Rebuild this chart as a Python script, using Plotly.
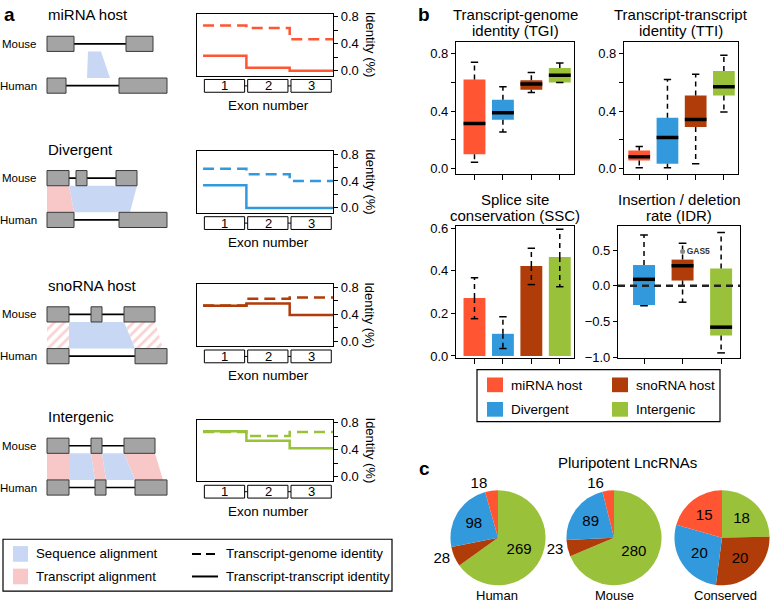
import plotly.graph_objects as go

W, H = 771, 607
FONT = "Liberation Sans, Arial, Helvetica, sans-serif"

# ── categories / colours ──
groups = ["miRNA host", "Divergent", "snoRNA host", "Intergenic"]
colors = ["#ff5533", "#3399dd", "#b03c0a", "#99c23a"]
seq_color = "#c8d8f4"
tx_color = "#f8c8c8"

# ── panel a: identity per exon (exons 1-3) ──
exon_labels = ["1", "2", "3"]
tgi_exon = [[0.67, 0.635, 0.465], [0.58, 0.50, 0.40], [0.53, 0.63, 0.65], [0.66, 0.60, 0.66]]
tti_exon = [[0.22, 0.045, 0.0], [0.335, 0.0, 0.0], [0.527, 0.56, 0.39], [0.67, 0.53, 0.42]]

# ── panel a: gene models (x in schematic units from first exon start) ──
mouse_exons = [
    [(0, 27), (79, 106)],
    [(0, 22), (29, 40), (69, 90)],
    [(0, 22), (44, 55), (77, 108)],
    [(0, 22), (44, 55), (77, 108)],
]
human_exons = [
    [(0, 19), (72, 120)],
    [(0, 27), (72, 120)],
    [(0, 22), (88, 120)],
    [(0, 22), (48, 59), (88, 120)],
]
# aligned blocks: (mouse start, mouse end, human start, human end)
seq_blocks = [
    [(41, 54, 40, 63)],
    [(22, 90, 27, 83)],
    [(22, 77, 22, 88)],
    [(22, 44, 22, 48), (55, 77, 59, 88)],
]
tx_blocks = [
    [],
    [(0, 22, 0, 27)],
    [(0, 22, 0, 22), (77, 108, 88, 116)],
    [(0, 22, 0, 22), (44, 55, 48, 59), (77, 108, 88, 116)],
]
tx_hatched = [False, False, True, False]

# ── panel b: (lower whisker, q1, median, q3, upper whisker) ──
tgi_stats = [(0.045, 0.10, 0.315, 0.62, 0.74), (0.256, 0.34, 0.39, 0.48, 0.57),
             (0.53, 0.55, 0.59, 0.616, 0.67), (0.60, 0.60, 0.65, 0.70, 0.735)]
tti_stats = [(0.007, 0.057, 0.084, 0.126, 0.155), (0.007, 0.034, 0.217, 0.354, 0.62),
             (0.034, 0.29, 0.342, 0.51, 0.657), (0.395, 0.51, 0.57, 0.68, 0.79)]
ssc_mean = [0.272, 0.104, 0.422, 0.464]
ssc_lo = [0.175, 0.035, 0.335, 0.325]
ssc_hi = [0.367, 0.184, 0.505, 0.595]
idr_groups = ["Divergent", "snoRNA host", "Intergenic"]
idr_stats = [(-0.28, -0.27, 0.09, 0.29, 0.71), (-0.23, 0.073, 0.28, 0.366, 0.595),
             (-0.94, -0.696, -0.58, 0.243, 0.746)]
idr_outlier_name = "GAS5"
idr_outlier_group = "snoRNA host"
idr_outlier_value = 0.48

# ── panel c: pluripotent lncRNAs ──
pie_names = ["Human", "Mouse", "Conserved"]
pie_order = ["Intergenic", "snoRNA host", "Divergent", "miRNA host"]
pie_values = [[269, 28, 98, 18], [280, 23, 89, 16], [18, 20, 20, 15]]


def pxx(a, b):
    return [a / W, b / W]


def pxy(top, bottom):
    return [1 - bottom / H, 1 - top / H]


def refs(n):
    s = "" if n == 1 else str(n)
    return "x" + s, "y" + s


fig = go.Figure()
lay = dict(width=W, height=H, margin=dict(l=0, r=0, t=0, b=0),
           paper_bgcolor="white", plot_bgcolor="white", showlegend=False,
           font=dict(family=FONT, size=13, color="black"))
shapes, annos = [], []


def txt(x, y, text, size=13, xref="paper", yref="paper", xanchor="center", **kw):
    annos.append(dict(x=x, y=y, text=text, xref=xref, yref=yref, showarrow=False,
                      xanchor=xanchor, yanchor="middle", borderpad=0,
                      font=dict(family=FONT, size=size, color=kw.pop("color", "black")), **kw))


def set_axes(n, xa, ya):
    s = "" if n == 1 else str(n)
    lay["xaxis" + s] = xa
    lay["yaxis" + s] = ya


frame = dict(showline=True, mirror=True, linecolor="black", linewidth=1.2,
             showgrid=False, zeroline=False, fixedrange=True)

# ══ panel a ══
sch_off = [0, 137, 276, 410]
line_off = [0, 140, 276, 414]
MB, HT = 2.75, 1.0  # mouse exon bottom, human exon top

txt(3 / W, 1 - 10 / H, "<b>a</b>", size=19, xanchor="left")
for r in range(4):
    # identity step chart
    n = r + 1
    xr, yr = refs(n)
    o = line_off[r]
    set_axes(n,
             dict(domain=pxx(197, 333), range=[-0.14, 3.0], anchor=yr, showticklabels=False, **frame),
             dict(domain=pxy(9 + o, 72 + o), range=[-0.073, 0.844], anchor=xr, side="right",
                  tickvals=[0, 0.2, 0.4, 0.6, 0.8], ticktext=["0.0", "", "0.4", "", "0.8"],
                  ticks="outside", ticklen=4, tickcolor="black", tickfont=dict(size=13), **frame))
    xs = list(range(len(exon_labels) + 1))
    for vals, dash in ((tti_exon[r], "solid"), (tgi_exon[r], "11px,6px")):
        fig.add_trace(go.Scatter(x=xs, y=vals + [vals[-1]], mode="lines",
                                 line=dict(color=colors[r], width=2.5, dash=dash, shape="hv"),
                                 xaxis=xr, yaxis=yr, hoverinfo="skip"))
    for i, lab in enumerate(exon_labels):
        shapes.append(dict(type="rect", xref=xr, yref=yr + " domain", x0=i + 0.03, x1=i + 0.96,
                           y0=-0.27, y1=-0.063, line=dict(color="black", width=1), fillcolor="white"))
        if i > 0:
            shapes.append(dict(type="line", xref=xr, yref=yr + " domain", x0=i - 0.04, x1=i + 0.03,
                               y0=-0.167, y1=-0.167, line=dict(color="black", width=1)))
        txt(i + 0.5, -0.167, lab, size=13, xref=xr, yref=yr + " domain")
    txt(1.5, -0.48, "Exon number", size=13.5, xref=xr, yref=yr + " domain")
    txt(370 / W, 0.5, "Identity (%)", size=13, yref=yr + " domain", textangle=90)

    # gene-model schematic
    n2 = r + 5
    sx, sy = refs(n2)
    so = sch_off[r]
    set_axes(n2,
             dict(domain=pxx(44, 170), range=[-3, 123], visible=False, anchor=sy, fixedrange=True),
             dict(domain=pxy(so + 28, so + 94.65), range=[-0.3, 4.0], visible=False, anchor=sx,
                  fixedrange=True))
    for ms, me, hs, he in tx_blocks[r]:
        if tx_hatched[r]:
            extra = dict(fillcolor="white",
                         fillpattern=dict(shape="/", fgcolor="#f4a8a8", bgcolor="white",
                                          size=7, solidity=0.4))
        else:
            extra = dict(fillcolor=tx_color)
        fig.add_trace(go.Scatter(x=[ms, me, he, hs, ms], y=[MB, MB, HT, HT, MB], mode="lines",
                                 fill="toself", line=dict(width=0, color="rgba(0,0,0,0)"),
                                 xaxis=sx, yaxis=sy, hoverinfo="skip", **extra))
    for ms, me, hs, he in seq_blocks[r]:
        fig.add_trace(go.Scatter(x=[ms, me, he, hs, ms], y=[MB, MB, HT, HT, MB], mode="lines",
                                 fill="toself", fillcolor=seq_color,
                                 line=dict(width=0, color="rgba(0,0,0,0)"),
                                 xaxis=sx, yaxis=sy, hoverinfo="skip"))
    for exons, yc, y0 in ((mouse_exons[r], MB + 0.5, MB), (human_exons[r], HT - 0.5, 0.0)):
        ix, iy = [], []
        for (a0, a1), (b0, b1) in zip(exons[:-1], exons[1:]):
            ix += [a1, b0, None]
            iy += [yc, yc, None]
        fig.add_trace(go.Scatter(x=ix, y=iy, mode="lines", line=dict(color="black", width=1.6),
                                 xaxis=sx, yaxis=sy, hoverinfo="skip"))
        for a0, a1 in exons:
            shapes.append(dict(type="rect", xref=sx, yref=sy, x0=a0, x1=a1, y0=y0, y1=y0 + 1,
                               fillcolor="#a4a4a4", line=dict(color="#3a3a3a", width=1)))
    txt(38 / W, MB + 0.5, "Mouse", size=11.5, yref=sy, xanchor="right")
    txt(38 / W, HT - 0.5, "Human", size=11.5, yref=sy, xanchor="right")
    txt(47 / W, 1 - (10 + so) / H, groups[r], size=15, xanchor="left")

# panel a legend
shapes.append(dict(type="rect", xref="paper", yref="paper", x0=3 / W, x1=392 / W,
                   y0=1 - 598 / H, y1=1 - 545 / H, line=dict(color="black", width=1.2)))
for (t, b), c in (((552, 568), seq_color), ((575, 591), tx_color)):
    shapes.append(dict(type="rect", xref="paper", yref="paper", x0=13 / W, x1=28 / W,
                       y0=1 - b / H, y1=1 - t / H, fillcolor=c, line=dict(width=0)))
for yy, dash in ((560, "9px,5px"), (583, "solid")):
    shapes.append(dict(type="line", xref="paper", yref="paper", x0=192 / W, x1=218 / W,
                       y0=1 - yy / H, y1=1 - yy / H, line=dict(color="black", width=2, dash=dash)))
txt(35 / W, 1 - 560 / H, "Sequence alignment", size=13.3, xanchor="left")
txt(35 / W, 1 - 583 / H, "Transcript alignment", size=13.3, xanchor="left")
txt(225 / W, 1 - 560 / H, "Transcript-genome identity", size=13.3, xanchor="left")
txt(225 / W, 1 - 583 / H, "Transcript-transcript identity", size=13.3, xanchor="left")

# ══ panel b ══
txt(417 / W, 1 - 10 / H, "<b>b</b>", size=19, xanchor="left")


def cat_x(n, dom, rng, ncat):
    return dict(domain=pxx(*dom), range=rng, anchor=refs(n)[1], tickvals=list(range(1, ncat + 1)),
                ticktext=[""] * ncat, ticks="outside", ticklen=5, tickcolor="black", **frame)


def val_y(n, dom, rng, tv, tt):
    return dict(domain=pxy(*dom), range=rng, anchor=refs(n)[0], tickvals=tv, ticktext=tt,
                ticks="outside", ticklen=4, tickcolor="black", tickfont=dict(size=13), **frame)


def whiskers(xr, yr, xs, lo, hi, starts_lo, starts_hi, cap):
    wx, wy, cx, cy = [], [], [], []
    for x, l, h, sl, sh in zip(xs, lo, hi, starts_lo, starts_hi):
        wx += [x, x, None, x, x, None]
        wy += [sh, h, None, sl, l, None]
        cx += [x - cap, x + cap, None, x - cap, x + cap, None]
        cy += [h, h, None, l, l, None]
    fig.add_trace(go.Scatter(x=wx, y=wy, mode="lines", line=dict(color="black", width=1.5, dash="5px,4px"),
                             xaxis=xr, yaxis=yr, hoverinfo="skip"))
    fig.add_trace(go.Scatter(x=cx, y=cy, mode="lines", line=dict(color="black", width=1.5),
                             xaxis=xr, yaxis=yr, hoverinfo="skip"))


def boxes(n, stats, cols, width, cap):
    xr, yr = refs(n)
    xs = list(range(1, len(stats) + 1))
    lo, q1, med, q3, hi = [list(v) for v in zip(*stats)]
    fig.add_trace(go.Bar(x=xs, y=[b - a for a, b in zip(q1, q3)], base=q1, width=width,
                         marker=dict(color=cols, line=dict(width=0)), xaxis=xr, yaxis=yr,
                         hoverinfo="skip"))
    whiskers(xr, yr, xs, lo, hi, q1, q3, cap)
    mx, my = [], []
    for x, m in zip(xs, med):
        mx += [x - width / 2, x + width / 2, None]
        my += [m, m, None]
    fig.add_trace(go.Scatter(x=mx, y=my, mode="lines", line=dict(color="black", width=3.5),
                             xaxis=xr, yaxis=yr, hoverinfo="skip"))


tick02 = [0, 0.2, 0.4, 0.6, 0.8]
tick02t = ["0.0", "", "0.4", "", "0.8"]
set_axes(9, cat_x(9, (456, 574), [0.35, 4.5], 4), val_y(9, (38, 172), [-0.034, 0.88], tick02, tick02t))
set_axes(10, cat_x(10, (624, 738), [0.46, 4.5], 4), val_y(10, (38, 172), [-0.034, 0.88], tick02, tick02t))
set_axes(11, cat_x(11, (456, 574), [0.35, 4.5], 4),
         val_y(11, (225, 360), [-0.009, 0.612], [0, 0.2, 0.4, 0.6], ["0.0", "0.2", "0.4", "0.6"]))
set_axes(12, cat_x(12, (618, 740), [0.325, 3.49], 3),
         val_y(12, (225, 360), [-1.01, 0.843], [-1, -0.5, 0, 0.5], ["−1.0", "−0.5", "0.0", "0.5"]))

boxes(9, tgi_stats, colors, 0.77, 0.13)
boxes(10, tti_stats, colors, 0.77, 0.13)

# SSC bars with dashed error bars
fig.add_trace(go.Bar(x=[1, 2, 3, 4], y=ssc_mean, width=0.77, marker=dict(color=colors, line=dict(width=0)),
                     xaxis="x11", yaxis="y11", hoverinfo="skip"))
whiskers("x11", "y11", [1, 2, 3, 4], ssc_lo, ssc_hi, ssc_mean, ssc_mean, 0.13)

# IDR
shapes.append(dict(type="line", xref="x12 domain", yref="y12", x0=0, x1=1, y0=0, y1=0,
                   line=dict(color="#222222", width=2.5, dash="7px,5px")))
boxes(12, idr_stats, [colors[groups.index(g)] for g in idr_groups], 0.57, 0.1)
fig.add_trace(go.Scatter(x=[idr_groups.index(idr_outlier_group) + 1], y=[idr_outlier_value],
                         mode="markers+text", text=["<b>" + idr_outlier_name + "</b>"],
                         textposition="middle right", textfont=dict(family=FONT, size=8.5, color="#333333"),
                         marker=dict(color="#888888", size=5), xaxis="x12", yaxis="y12", hoverinfo="skip"))

for lines, dom, ys in ((["Transcript-genome", "identity (TGI)"], (456, 574), (10, 26)),
                       (["Transcript-transcript", "identity (TTI)"], (624, 738), (10, 26)),
                       (["Splice site", "conservation (SSC)"], (456, 574), (198, 215)),
                       (["Insertion / deletion", "rate (IDR)"], (618, 740), (198, 215))):
    for line, yy in zip(lines, ys):
        txt((dom[0] + dom[1]) / 2 / W, 1 - yy / H, line, size=15)

# panel b legend
shapes.append(dict(type="rect", xref="paper", yref="paper", x0=477 / W, x1=720 / W,
                   y0=1 - 425 / H, y1=1 - 372 / H, line=dict(color="black", width=1.2)))
leg_pos = {"miRNA host": (487, 380), "snoRNA host": (612, 380), "Divergent": (487, 405), "Intergenic": (612, 405)}
for g, (lx, ly) in leg_pos.items():
    shapes.append(dict(type="rect", xref="paper", yref="paper", x0=lx / W, x1=(lx + 16) / W,
                       y0=1 - (ly + 15) / H, y1=1 - ly / H, fillcolor=colors[groups.index(g)],
                       line=dict(width=0)))
    txt((lx + 23) / W, 1 - (ly + 8) / H, g, size=13.5, xanchor="left")

# ══ panel c ══
txt(418 / W, 1 - 473 / H, "<b>c</b>", size=19, xanchor="left")
txt(627 / W, 1 - 467 / H, "Pluripotent LncRNAs", size=15)
pie_x = [(450, 546), (566, 662), (673, 771)]
pie_lab_x = [497, 614, 725]
for k, (name, vals) in enumerate(zip(pie_names, pie_values)):
    tot = sum(vals)
    fig.add_trace(go.Pie(
        values=vals, labels=pie_order, sort=False, direction="clockwise", rotation=0,
        marker=dict(colors=[colors[groups.index(g)] for g in pie_order], line=dict(width=0)),
        textinfo="value", textposition=["outside" if v / tot < 0.1 else "inside" for v in vals],
        textfont=dict(family=FONT, size=15, color="black"), insidetextorientation="horizontal",
        domain=dict(x=pxx(*pie_x[k]), y=pxy(495, 592)), showlegend=False, hoverinfo="label+value",
    ))
    txt(pie_lab_x[k] / W, 1 - 602 / H, name, size=13)

lay["shapes"] = shapes
lay["annotations"] = annos
lay["barmode"] = "overlay"
fig.update_layout(**lay)
# drop the browser's default body margin so the figure sits at the page origin
fig.write_html("out.html", config={"displayModeBar": False},
               post_script="document.body.style.margin='0';")
